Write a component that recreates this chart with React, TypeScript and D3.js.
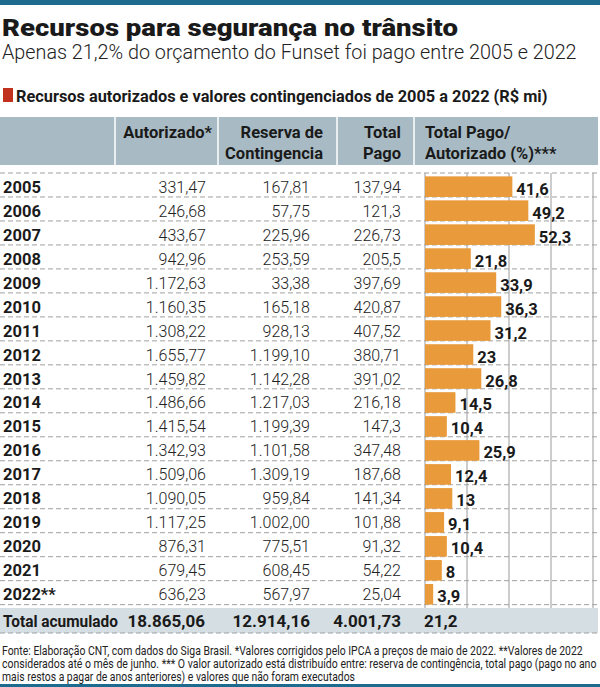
import React, { useLayoutEffect, useRef, useState } from "react";
import * as d3 from "d3";

const years = ["2005","2006","2007","2008","2009","2010","2011","2012","2013","2014","2015","2016","2017","2018","2019","2020","2021","2022**"];
const autorizado = ["331,47","246,68","433,67","942,96","1.172,63","1.160,35","1.308,22","1.655,77","1.459,82","1.486,66","1.415,54","1.342,93","1.509,06","1.090,05","1.117,25","876,31","679,45","636,23"];
const reserva = ["167,81","57,75","225,96","253,59","33,38","165,18","928,13","1.199,10","1.142,28","1.217,03","1.199,39","1.101,58","1.309,19","959,84","1.002,00","775,51","608,45","567,97"];
const totalPago = ["137,94","121,3","226,73","205,5","397,69","420,87","407,52","380,71","391,02","216,18","147,3","347,48","187,68","141,34","101,88","91,32","54,22","25,04"];
const pctPago = [41.6,49.2,52.3,21.8,33.9,36.3,31.2,23,26.8,14.5,10.4,25.9,12.4,13,9.1,10.4,8,3.9];
const totals = ["18.865,06","12.914,16","4.001,73","21,2"];
const gridTicks = [0,20,40,60,80];

const FONT = "Roboto, 'Open Sans', sans-serif";
const W = 600, H = 687;

function FitText(props: { x: number; y: number; width: number; size: number; weight: number; fill: string; children: string }) {
  const ref = useRef<SVGTextElement>(null);
  const [k, setK] = useState(1);
  useLayoutEffect(() => {
    if (ref.current) {
      const w = ref.current.getComputedTextLength();
      if (w > 0) setK(props.width / w);
    }
  }, [props.width, props.children]);
  return (
    <text
      ref={ref}
      x={0}
      y={0}
      transform={`translate(${props.x},${props.y}) scale(${k},1)`}
      fontSize={props.size}
      fontWeight={props.weight}
      fill={props.fill}
    >
      {props.children}
    </text>
  );
}

export default function App() {
  const y = d3.scaleBand<string>().domain(years).range([173, 608]).padding(0.14);
  const x = d3.scaleLinear().domain([0, 80]).range([425, 593]);
  const step = y.step();
  const fmt = (v: number) => String(v).replace(".", ",");
  const rowLines = d3.range(years.length + 1).map(i => 173 + i * step);

  return (
    <svg width={W} height={H} style={{ position: "absolute", left: 0, top: 0, background: "#fff" }} fontFamily={FONT}>
      <rect x={0} y={0} width={W} height={5} fill="#1d6b8f" />
      <rect x={0} y={684} width={W} height={3} fill="#1d6b8f" />
      <FitText x={2} y={36} width={456} size={24} weight={900} fill="#1a1a1a">Recursos para segurança no trânsito</FitText>
      <FitText x={2} y={59} width={575} size={20} weight={300} fill="#222">Apenas 21,2% do orçamento do Funset foi pago entre 2005 e 2022</FitText>
      <rect x={3} y={88} width={10} height={14} fill="#c0321e" />
      <FitText x={16} y={102} width={532} size={16.5} weight={700} fill="#1a1a1a">Recursos autorizados e valores contingenciados de 2005 a 2022 (R$ mi)</FitText>

      {/* header */}
      <rect x={0} y={117} width={598} height={48} fill="#a8bbc4" />
      {[115, 218, 337, 414].map(sx => (
        <line key={sx} x1={sx} x2={sx} y1={117} y2={165} stroke="#fff" strokeWidth={1.5} />
      ))}
      <g fontSize={16.5} fontWeight={700} fill="#1a1a1a">
        <text x={212} y={138} textAnchor="end">Autorizado*</text>
        <text x={323} y={138} textAnchor="end">Reserva de</text>
        <text x={323} y={159} textAnchor="end">Contingencia</text>
        <text x={401} y={138} textAnchor="end">Total</text>
        <text x={401} y={159} textAnchor="end">Pago</text>
        <text x={425} y={138}>Total Pago/</text>
        <text x={425} y={159}>Autorizado (%)***</text>
      </g>

      {/* total band */}
      <rect x={0} y={608} width={598} height={25} fill="#d5dee3" />

      {/* grid */}
      {gridTicks.map(t => (
        <line key={t} x1={x(t)} x2={x(t)} y1={173} y2={608} stroke="#9a9a9a" strokeWidth={1} />
      ))}
      {[...rowLines, 633].map((ly, i) => (
        <line key={i} x1={0} x2={598} y1={ly} y2={ly} stroke="#a0a0a0" strokeWidth={1} strokeDasharray="5,3" />
      ))}

      {/* rows */}
      {years.map((yr, i) => {
        const cy = (y(yr) as number) + y.bandwidth() / 2;
        return (
          <g key={yr}>
            <text x={3} y={cy + 6} fontSize={16.5} fontWeight={700} fill="#1a1a1a">{yr}</text>
            <text x={206} y={cy + 6} fontSize={16} fontWeight={300} fill="#222" textAnchor="end">{autorizado[i]}</text>
            <text x={310} y={cy + 6} fontSize={16} fontWeight={300} fill="#222" textAnchor="end">{reserva[i]}</text>
            <text x={401} y={cy + 6} fontSize={16} fontWeight={300} fill="#222" textAnchor="end">{totalPago[i]}</text>
            <rect x={x(0)} y={y(yr)} width={x(pctPago[i]) - x(0)} height={y.bandwidth()} fill="#e99a3b" />
            <text x={x(pctPago[i]) + 4} y={cy + 8} fontSize={16.5} fontWeight={700} fill="#1a1a1a">{fmt(pctPago[i])}</text>
          </g>
        );
      })}

      {/* total row */}
      <FitText x={3} y={627} width={115} size={17} weight={700} fill="#1a1a1a">Total acumulado</FitText>
      <g fontSize={17} fontWeight={700} fill="#1a1a1a">
        <text x={205} y={627} textAnchor="end">{totals[0]}</text>
        <text x={310} y={627} textAnchor="end">{totals[1]}</text>
        <text x={401} y={627} textAnchor="end">{totals[2]}</text>
        <text x={424} y={627}>{totals[3]}</text>
      </g>

      {/* footer */}
      <FitText x={2} y={655} width={581} size={12} weight={400} fill="#222">Fonte: Elaboração CNT, com dados do Siga Brasil. *Valores corrigidos pelo IPCA a preços de maio de 2022. **Valores de 2022</FitText>
      <FitText x={2} y={668} width={595} size={12} weight={400} fill="#222">considerados até o mês de junho. *** O valor autorizado está distribuído entre: reserva de contingência, total pago (pago no ano</FitText>
      <FitText x={2} y={681} width={353} size={12} weight={400} fill="#222">mais restos a pagar de anos anteriores) e valores que não foram executados</FitText>
    </svg>
  );
}
